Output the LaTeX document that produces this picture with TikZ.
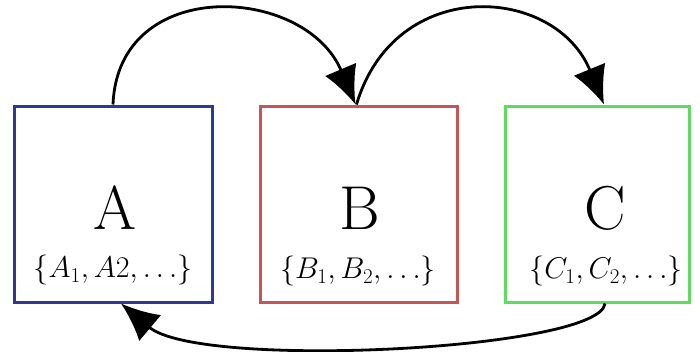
\RequirePackage{fix-cm}
\documentclass[tikz,border=0pt]{standalone}
\usepackage{fontspec}
\usetikzlibrary{arrows.meta}
\definecolor{boxA}{RGB}{50,55,150}
\definecolor{boxB}{RGB}{200,85,85}
\definecolor{boxC}{RGB}{95,220,95}
\tikzset{
  box/.style={draw=#1, line width=3pt, minimum height=196pt, inner sep=0pt},
  bigletter/.style={font=\fontsize{62}{62}\selectfont, inner sep=0pt},
  settext/.style={font=\fontsize{30}{30}\selectfont, inner sep=1pt},
  link/.style={line width=2.8pt, -{Latex[length=38pt,width=34pt]}}
}
\begin{document}
\begin{tikzpicture}[x=1pt,y=-1pt]
\useasboundingbox (0,0) rectangle (700,351);
\node[box=boxA, minimum width=198pt] (A) at (113,204) {};
\node[box=boxB, minimum width=197pt] (B) at (358.5,204) {};
\node[box=boxC, minimum width=184pt] (C) at (597,204) {};
\node[bigletter] (At) at (115,208) {A};
\node[bigletter] (Bt) at (360,208) {B};
\node[bigletter] (Ct) at (605,208) {C};
\node[settext] (As) at (113,270) {$\{A_1, A2, \ldots\}$};
\node[settext] (Bs) at (358,271) {$\{B_1, B_2, \ldots\}$};
\node[settext] (Cs) at (606,271) {$\{C_1, C_2, \ldots\}$};
\draw[link] (A.north) .. controls (118,-25) and (305,-15) .. ([xshift=-3pt]B.north);
\draw[link] ([xshift=-2pt]B.north) .. controls (395,-25) and (555,-15) .. ([xshift=7pt]C.north);
\draw[link] ([xshift=8pt]C.south) .. controls (600,350) and (200,370) .. ([xshift=8pt]A.south);
\end{tikzpicture}
\end{document}
